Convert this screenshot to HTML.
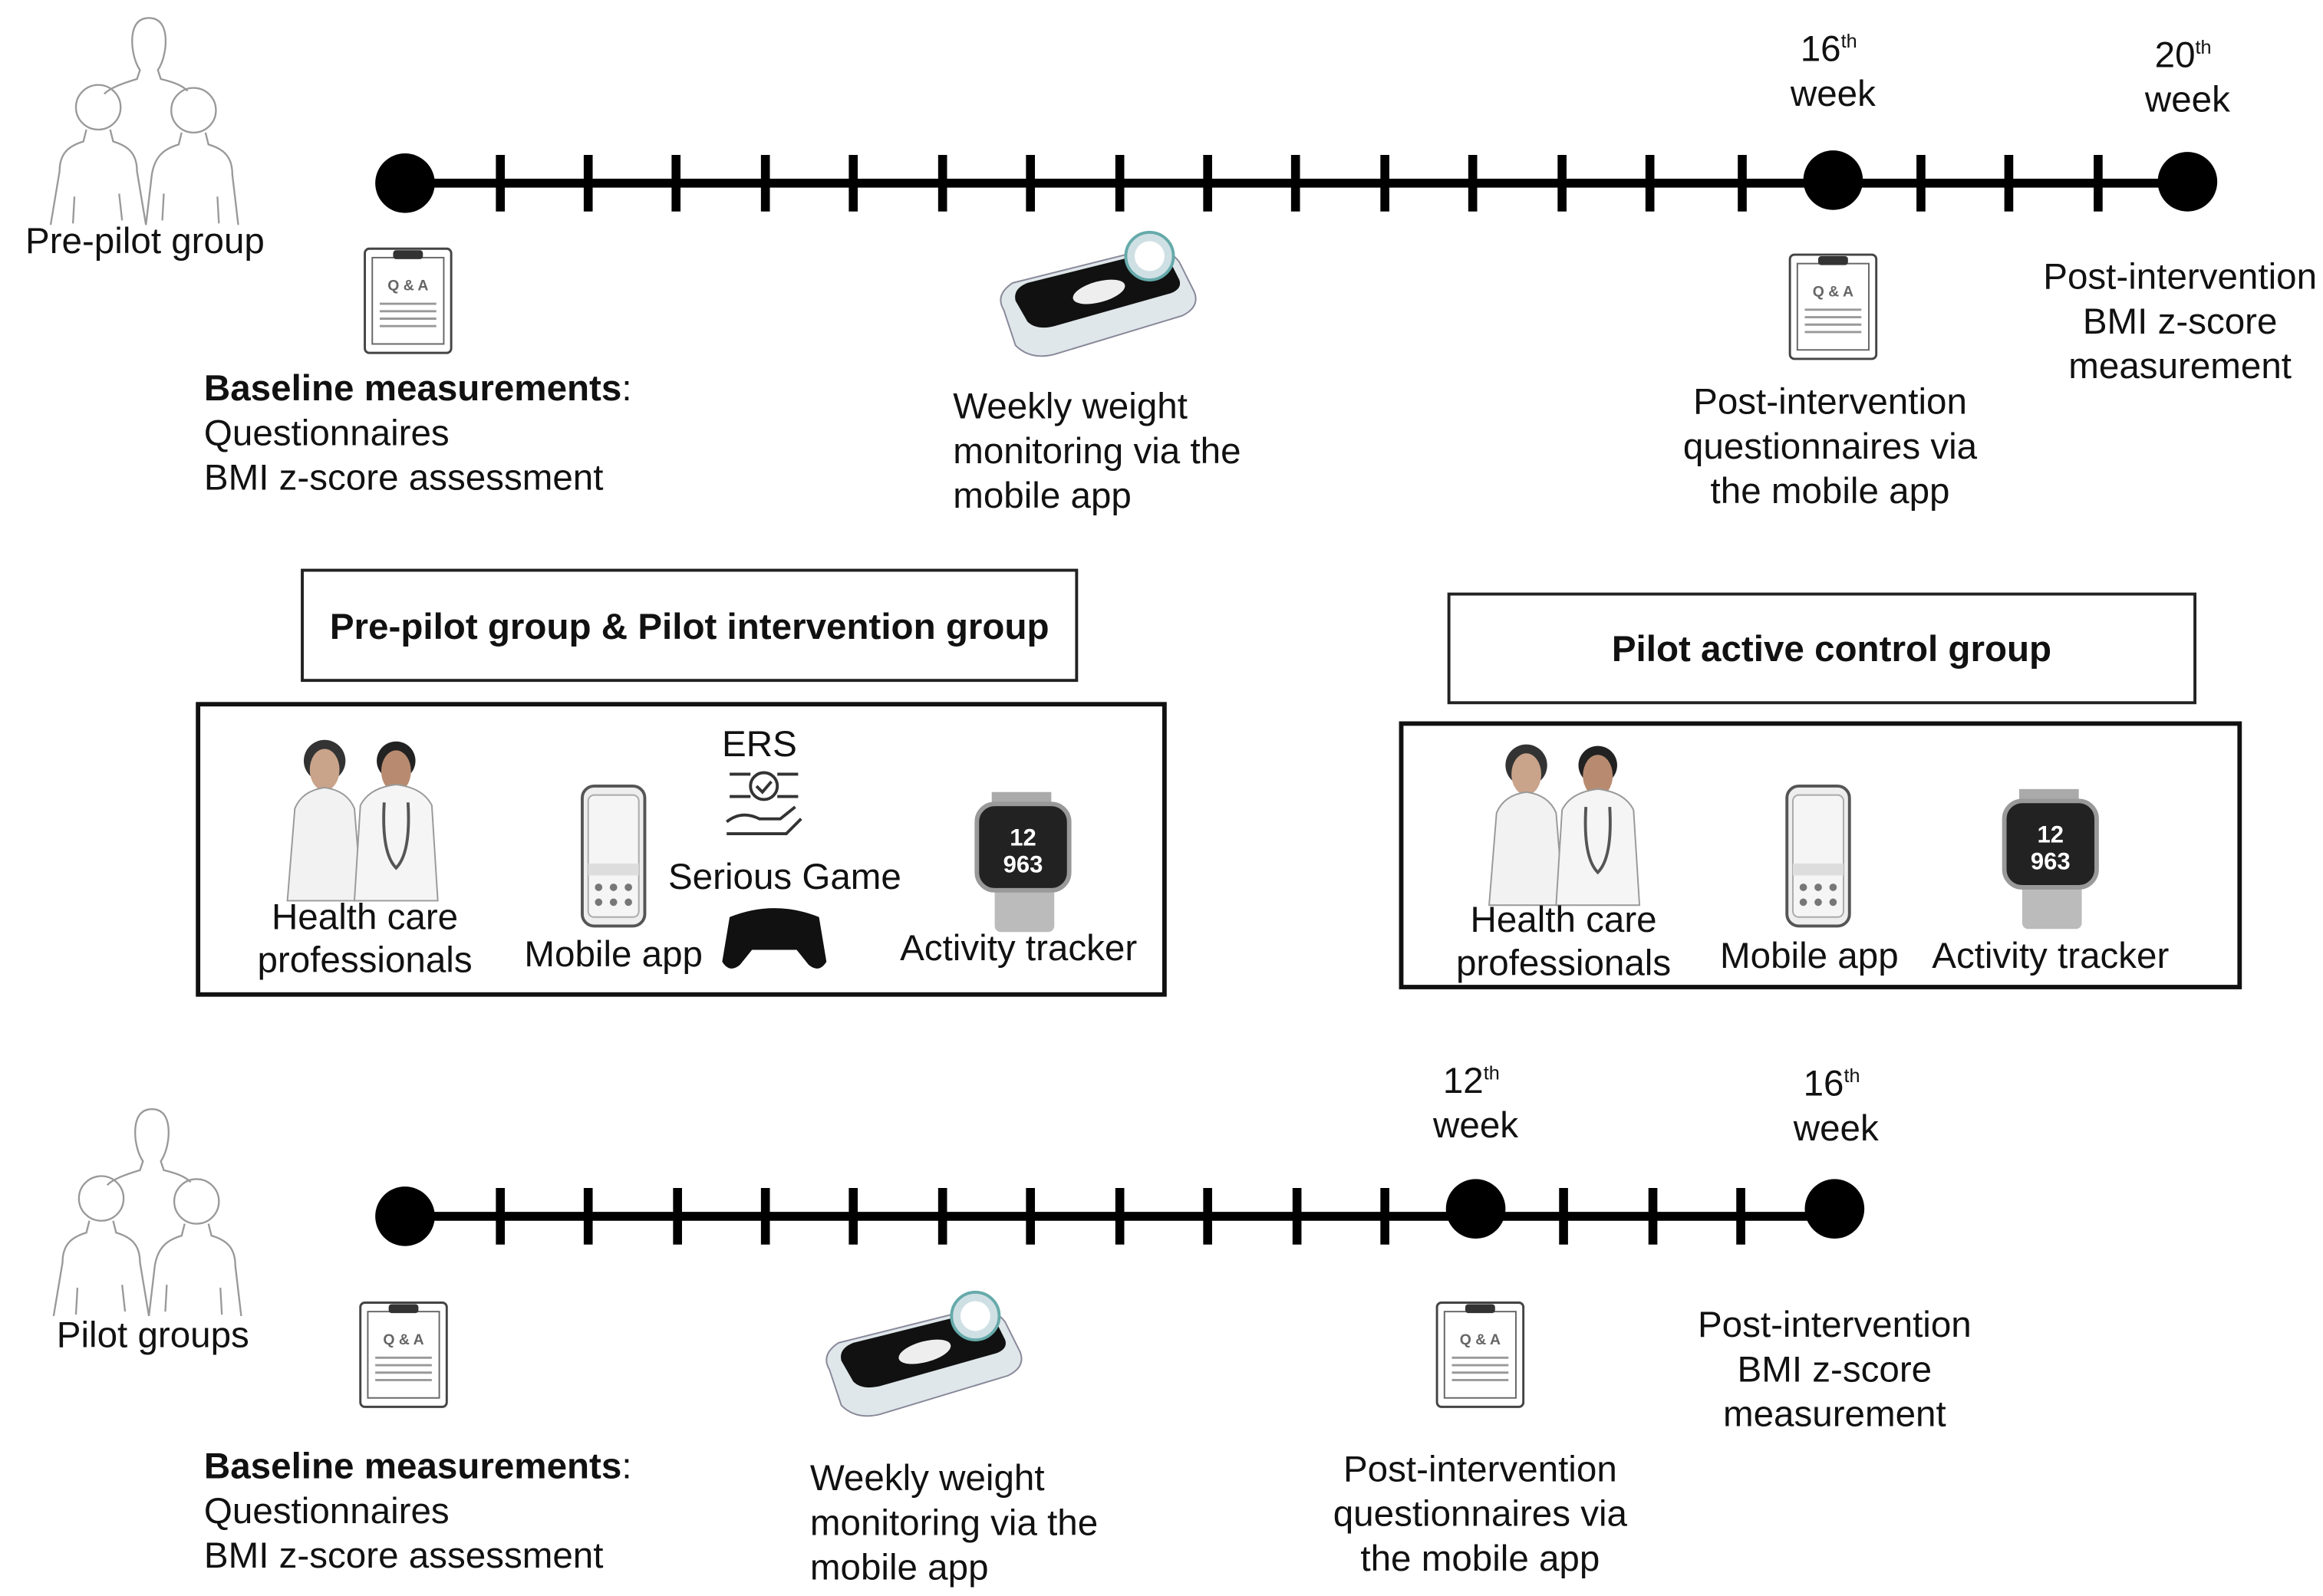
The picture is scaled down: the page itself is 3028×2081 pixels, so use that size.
<!DOCTYPE html>
<html><head><meta charset="utf-8">
<style>
html,body{margin:0;padding:0;background:#fff;}
svg{display:block;}
text{font-family:"Liberation Sans",Arial,sans-serif;fill:#111;}
</style></head>
<body>
<svg width="3028" height="2081" viewBox="0 0 1560 1072" xmlns="http://www.w3.org/2000/svg">
<defs>
  <g id="people" fill="none" stroke="#999" stroke-width="1.2">
    <path d="M62 0 c-10 0 -12 10 -11 20 c1 8 3 12 5 15 l-2 6 c-10 3 -18 6 -22 10"/>
    <path d="M62 0 c10 0 12 10 11 20 c-1 8 -3 12 -5 15 l2 6 c8 2 14 4 18 8"/>
    <circle cx="28" cy="60" r="15"/>
    <path d="M20 75 l-2 8 c-10 3 -16 8 -16 20 l-6 36"/>
    <path d="M36 75 l2 8 c10 3 16 8 16 20 l6 36"/>
    <circle cx="92" cy="62" r="15"/>
    <path d="M84 77 l-2 8 c-10 3 -16 8 -18 20 l-4 34"/>
    <path d="M100 77 l2 8 c10 3 16 8 16 20 l4 34"/>
    <path d="M12 120 l-1 18 M42 118 l2 18 M72 118 l-1 18 M108 120 l1 18"/>
  </g>
  <g id="clip">
    <rect x="0" y="0" width="58" height="70" rx="3" fill="#fff" stroke="#444" stroke-width="1.5"/>
    <rect x="5" y="6" width="48" height="58" fill="none" stroke="#666" stroke-width="1"/>
    <rect x="19" y="1" width="20" height="6" rx="2" fill="#333"/>
    <text x="29" y="28" font-size="10" text-anchor="middle" font-weight="bold" style="fill:#666">Q &amp; A</text>
    <g stroke="#999" stroke-width="1.5">
      <line x1="10" y1="37" x2="48" y2="37"/><line x1="10" y1="42" x2="48" y2="42"/>
      <line x1="10" y1="47" x2="48" y2="47"/><line x1="10" y1="52" x2="48" y2="52"/>
    </g>
  </g>
  <g id="scale">
    <path d="M2 50 q-6 -10 6 -18 l88 -22 q16 -3 24 8 l10 20 q4 10 -8 16 l-86 26 q-16 4 -26 -6 z" fill="#dfe7ea" stroke="#889"/>
    <path d="M10 44 q-2 -8 8 -12 l80 -20 q10 -2 16 6 l6 12 q2 6 -6 9 l-78 22 q-12 3 -18 -3 z" fill="#111"/>
    <ellipse cx="66" cy="38" rx="18" ry="7" fill="#eee" transform="rotate(-15 66 38)"/>
    <circle cx="100" cy="14" r="16" fill="#cfe0e4" stroke="#6aa" stroke-width="2"/>
    <circle cx="100" cy="14" r="10" fill="#fff"/>
  </g>
  <g id="phone">
    <rect x="0" y="0" width="42" height="94" rx="8" fill="#eee" stroke="#555" stroke-width="2"/>
    <rect x="4" y="6" width="34" height="82" rx="4" fill="#f5f5f5" stroke="#aaa"/>
    <rect x="4" y="52" width="34" height="8" fill="#ddd"/>
    <g fill="#777"><circle cx="11" cy="68" r="2.5"/><circle cx="21" cy="68" r="2.5"/><circle cx="31" cy="68" r="2.5"/><circle cx="11" cy="78" r="2.5"/><circle cx="21" cy="78" r="2.5"/><circle cx="31" cy="78" r="2.5"/></g>
  </g>
  <g id="watch">
    <rect x="10" y="-8" width="40" height="14" fill="#aaa"/>
    <rect x="12" y="56" width="40" height="30" rx="4" fill="#bbb"/>
    <rect x="0" y="0" width="62" height="58" rx="12" fill="#222" stroke="#999" stroke-width="3"/>
    <text x="31" y="28" font-size="16" font-weight="bold" text-anchor="middle" style="fill:#fff">12</text>
    <text x="31" y="46" font-size="16" font-weight="bold" text-anchor="middle" style="fill:#fff">963</text>
  </g>
  <g id="doctors">
    <circle cx="30" cy="14" r="14" fill="#333"/>
    <ellipse cx="30" cy="20" rx="10" ry="14" fill="#c9a38a"/>
    <path d="M5 108 l5 -62 q5 -12 20 -14 q15 2 20 14 l5 62 z" fill="#f2f2f2" stroke="#999"/>
    <circle cx="78" cy="14" r="13" fill="#222"/>
    <ellipse cx="78" cy="21" rx="10" ry="14" fill="#b88b70"/>
    <path d="M50 108 l4 -64 q6 -12 24 -14 q18 2 24 14 l4 64 z" fill="#f5f5f5" stroke="#999"/>
    <path d="M70 42 q-2 34 8 44 q10 -10 8 -44" fill="none" stroke="#555" stroke-width="2"/>
  </g>
</defs>

<g font-size="24.5">
<!-- TOP TIMELINE -->
<use href="#people" x="38" y="12"/>
<text x="17" y="170">Pre-pilot group</text>
<line x1="272" y1="123" x2="1469" y2="123" stroke="#000" stroke-width="6"/>
<g stroke="#000" stroke-width="6">
  <line x1="336" y1="104" x2="336" y2="142"/><line x1="395" y1="104" x2="395" y2="142"/>
  <line x1="454" y1="104" x2="454" y2="142"/><line x1="514" y1="104" x2="514" y2="142"/>
  <line x1="573" y1="104" x2="573" y2="142"/><line x1="633" y1="104" x2="633" y2="142"/>
  <line x1="692" y1="104" x2="692" y2="142"/><line x1="752" y1="104" x2="752" y2="142"/>
  <line x1="811" y1="104" x2="811" y2="142"/><line x1="870" y1="104" x2="870" y2="142"/>
  <line x1="930" y1="104" x2="930" y2="142"/><line x1="989" y1="104" x2="989" y2="142"/>
  <line x1="1049" y1="104" x2="1049" y2="142"/><line x1="1108" y1="104" x2="1108" y2="142"/>
  <line x1="1170" y1="104" x2="1170" y2="142"/><line x1="1290" y1="104" x2="1290" y2="142"/>
  <line x1="1349" y1="104" x2="1349" y2="142"/><line x1="1409" y1="104" x2="1409" y2="142"/>
</g>
<circle cx="272" cy="123" r="20"/><circle cx="1231" cy="121" r="20"/><circle cx="1469" cy="122" r="20"/>
<text x="1209" y="41">16<tspan font-size="13" dy="-9">th</tspan></text>
<text x="1231" y="71" text-anchor="middle">week</text>
<text x="1447" y="45">20<tspan font-size="13" dy="-9">th</tspan></text>
<text x="1469" y="75" text-anchor="middle">week</text>

<use href="#clip" x="245" y="167"/>
<text x="137" y="269"><tspan font-weight="bold">Baseline measurements</tspan>:</text>
<text x="137" y="299">Questionnaires</text>
<text x="137" y="329">BMI z-score assessment</text>

<use href="#scale" x="672" y="158"/>
<text x="640" y="281">Weekly weight</text>
<text x="640" y="311">monitoring via the</text>
<text x="640" y="341">mobile app</text>

<use href="#clip" x="1202" y="171"/>
<text x="1229" y="278" text-anchor="middle">Post-intervention</text>
<text x="1229" y="308" text-anchor="middle">questionnaires via</text>
<text x="1229" y="338" text-anchor="middle">the mobile app</text>

<text x="1464" y="194" text-anchor="middle">Post-intervention</text>
<text x="1464" y="224" text-anchor="middle">BMI z-score</text>
<text x="1464" y="254" text-anchor="middle">measurement</text>

<!-- BOXES -->
<rect x="203" y="383" width="520" height="74" fill="none" stroke="#222" stroke-width="2"/>
<text x="463" y="429" font-weight="bold" text-anchor="middle">Pre-pilot group &amp; Pilot intervention group</text>
<rect x="133" y="473" width="649" height="195" fill="none" stroke="#111" stroke-width="3"/>
<use href="#doctors" x="188" y="497"/>
<text x="245" y="624" text-anchor="middle">Health care</text>
<text x="245" y="653" text-anchor="middle">professionals</text>
<use href="#phone" x="391" y="528"/>
<text x="412" y="649" text-anchor="middle">Mobile app</text>
<text x="510" y="508" text-anchor="middle">ERS</text>
<g fill="none" stroke="#333" stroke-width="2">
  <circle cx="513" cy="528" r="9"/><path d="M508 528 l4 4 l6 -7"/>
  <path d="M490 520 h14 M490 535 h14 M522 520 h14 M522 535 h14"/>
  <path d="M488 552 q10 -8 22 -2 h14 l10 -8 M488 560 h40 l10 -10"/>
</g>
<text x="527" y="597" text-anchor="middle">Serious Game</text>
<path d="M490 616 q30 -12 60 0 l5 30 q-5 8 -12 2 l-8 -10 h-30 l-8 10 q-7 6 -12 -2 z" fill="#111"/>
<use href="#watch" x="656" y="540"/>
<text x="684" y="645" text-anchor="middle">Activity tracker</text>

<rect x="973" y="399" width="501" height="73" fill="none" stroke="#222" stroke-width="2"/>
<text x="1230" y="444" font-weight="bold" text-anchor="middle">Pilot active control group</text>
<rect x="941" y="486" width="563" height="177" fill="none" stroke="#111" stroke-width="3"/>
<use href="#doctors" x="995" y="500"/>
<text x="1050" y="626" text-anchor="middle">Health care</text>
<text x="1050" y="655" text-anchor="middle">professionals</text>
<use href="#phone" x="1200" y="528"/>
<text x="1215" y="650" text-anchor="middle">Mobile app</text>
<use href="#watch" x="1346" y="538"/>
<text x="1377" y="650" text-anchor="middle">Activity tracker</text>

<!-- BOTTOM TIMELINE -->
<use href="#people" x="40" y="745"/>
<text x="38" y="905">Pilot groups</text>
<line x1="272" y1="817" x2="1232" y2="817" stroke="#000" stroke-width="6"/>
<g stroke="#000" stroke-width="6">
  <line x1="336" y1="798" x2="336" y2="836"/><line x1="395" y1="798" x2="395" y2="836"/>
  <line x1="455" y1="798" x2="455" y2="836"/><line x1="514" y1="798" x2="514" y2="836"/>
  <line x1="573" y1="798" x2="573" y2="836"/><line x1="633" y1="798" x2="633" y2="836"/>
  <line x1="692" y1="798" x2="692" y2="836"/><line x1="752" y1="798" x2="752" y2="836"/>
  <line x1="811" y1="798" x2="811" y2="836"/><line x1="871" y1="798" x2="871" y2="836"/>
  <line x1="930" y1="798" x2="930" y2="836"/><line x1="1050" y1="798" x2="1050" y2="836"/>
  <line x1="1110" y1="798" x2="1110" y2="836"/><line x1="1169" y1="798" x2="1169" y2="836"/>
</g>
<circle cx="272" cy="817" r="20"/><circle cx="991" cy="812" r="20"/><circle cx="1232" cy="812" r="20"/>
<text x="969" y="734">12<tspan font-size="13" dy="-9">th</tspan></text>
<text x="991" y="764" text-anchor="middle">week</text>
<text x="1211" y="736">16<tspan font-size="13" dy="-9">th</tspan></text>
<text x="1233" y="766" text-anchor="middle">week</text>

<use href="#clip" x="242" y="875"/>
<text x="137" y="993"><tspan font-weight="bold">Baseline measurements</tspan>:</text>
<text x="137" y="1023">Questionnaires</text>
<text x="137" y="1053">BMI z-score assessment</text>

<use href="#scale" x="555" y="870"/>
<text x="544" y="1001">Weekly weight</text>
<text x="544" y="1031">monitoring via the</text>
<text x="544" y="1061">mobile app</text>

<use href="#clip" x="965" y="875"/>
<text x="994" y="995" text-anchor="middle">Post-intervention</text>
<text x="994" y="1025" text-anchor="middle">questionnaires via</text>
<text x="994" y="1055" text-anchor="middle">the mobile app</text>

<text x="1232" y="898" text-anchor="middle">Post-intervention</text>
<text x="1232" y="928" text-anchor="middle">BMI z-score</text>
<text x="1232" y="958" text-anchor="middle">measurement</text>
</g>
</svg>
</body></html>
